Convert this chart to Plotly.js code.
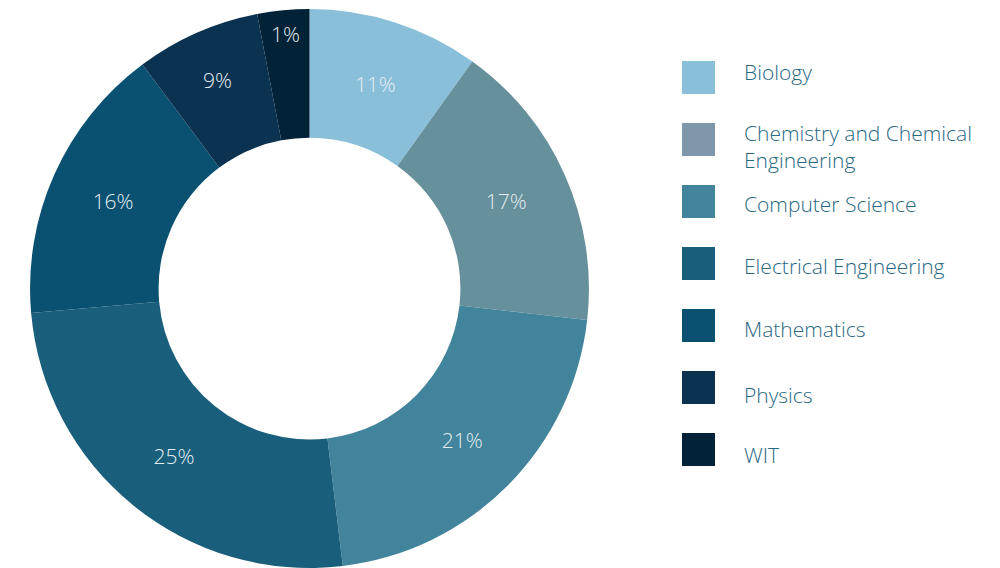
<!DOCTYPE html>
<html>
<head>
<meta charset="utf-8">
<script src="https://cdn.plot.ly/plotly-3.0.1.min.js"></script>
<style>
  html, body { margin: 0; padding: 0; background: #ffffff; }
  #chart { width: 1000px; height: 568px; }
</style>
</head>
<body>
<div id="chart"></div>
<script>
// ---- data ----
var departments = ['Biology', 'Chemistry and Chemical Engineering', 'Computer Science',
                   'Electrical Engineering', 'Mathematics', 'Physics', 'WIT'];
var legendNames = ['Biology', 'Chemistry and Chemical<br>Engineering', 'Computer Science',
                   'Electrical Engineering', 'Mathematics', 'Physics', 'WIT'];
var shares = [9.9, 16.9, 21.3, 25.5, 16.2, 7.2, 3.0];
var pctLabels = ['11%', '17%', '21%', '25%', '16%', '9%', '1%'];
var sliceColors = ['#8abfda', '#66909b', '#42849b', '#195f7c', '#0a5070', '#0b3251', '#022238'];
var legendColors = ['#8abfda', '#7f97aa', '#42849b', '#195f7c', '#0a5070', '#0b3251', '#022238'];

// ---- styling ----
var W = 1000, H = 568;
var FONT = '"Open Sans", "Segoe UI", sans-serif';
var legendTextColor = '#286884';
var legendX0 = 682, legendSize = 33, legendTextX = 742;
var legendTop0 = 61, legendStep = 62;
var legendTextShift = [-6, 7, 2, 2, 3, 7, 5];   // small per-row text nudges (px)

var trace = {
  type: 'pie',
  labels: departments,
  values: shares,
  text: pctLabels,
  textinfo: 'text',
  textposition: 'inside',
  insidetextorientation: 'horizontal',
  hoverinfo: 'label+text',
  sort: false,
  direction: 'clockwise',
  rotation: 0,
  hole: 0.54,
  marker: { colors: sliceColors, line: { width: 0 } },
  insidetextfont: { family: FONT, size: 21, color: '#e4edf2', weight: 300 },
  domain: { x: [0.0295, 0.5895], y: [0, 0.984] },
  showlegend: false
};

var shapes = [], annotations = [];
for (var i = 0; i < departments.length; i++) {
  var itemTop = legendTop0 + i * legendStep;
  shapes.push({
    type: 'rect', xref: 'paper', yref: 'paper',
    x0: legendX0 / W, x1: (legendX0 + legendSize) / W,
    y0: 1 - (itemTop + legendSize) / H, y1: 1 - itemTop / H,
    fillcolor: legendColors[i], line: { width: 0 }
  });
  var cy = itemTop + legendSize / 2 + legendTextShift[i];
  annotations.push({
    xref: 'paper', yref: 'paper',
    x: legendTextX / W, y: 1 - cy / H,
    xanchor: 'left', yanchor: 'middle', align: 'left',
    text: legendNames[i], showarrow: false,
    font: { family: FONT, size: 21, color: legendTextColor, weight: 300 }
  });
}

var layout = {
  width: W, height: H,
  margin: { l: 0, r: 0, t: 0, b: 0 },
  paper_bgcolor: '#ffffff',
  plot_bgcolor: '#ffffff',
  showlegend: false,
  shapes: shapes,
  annotations: annotations
};

Plotly.newPlot('chart', [trace], layout, { displayModeBar: false, staticPlot: true });
</script>
</body>
</html>
